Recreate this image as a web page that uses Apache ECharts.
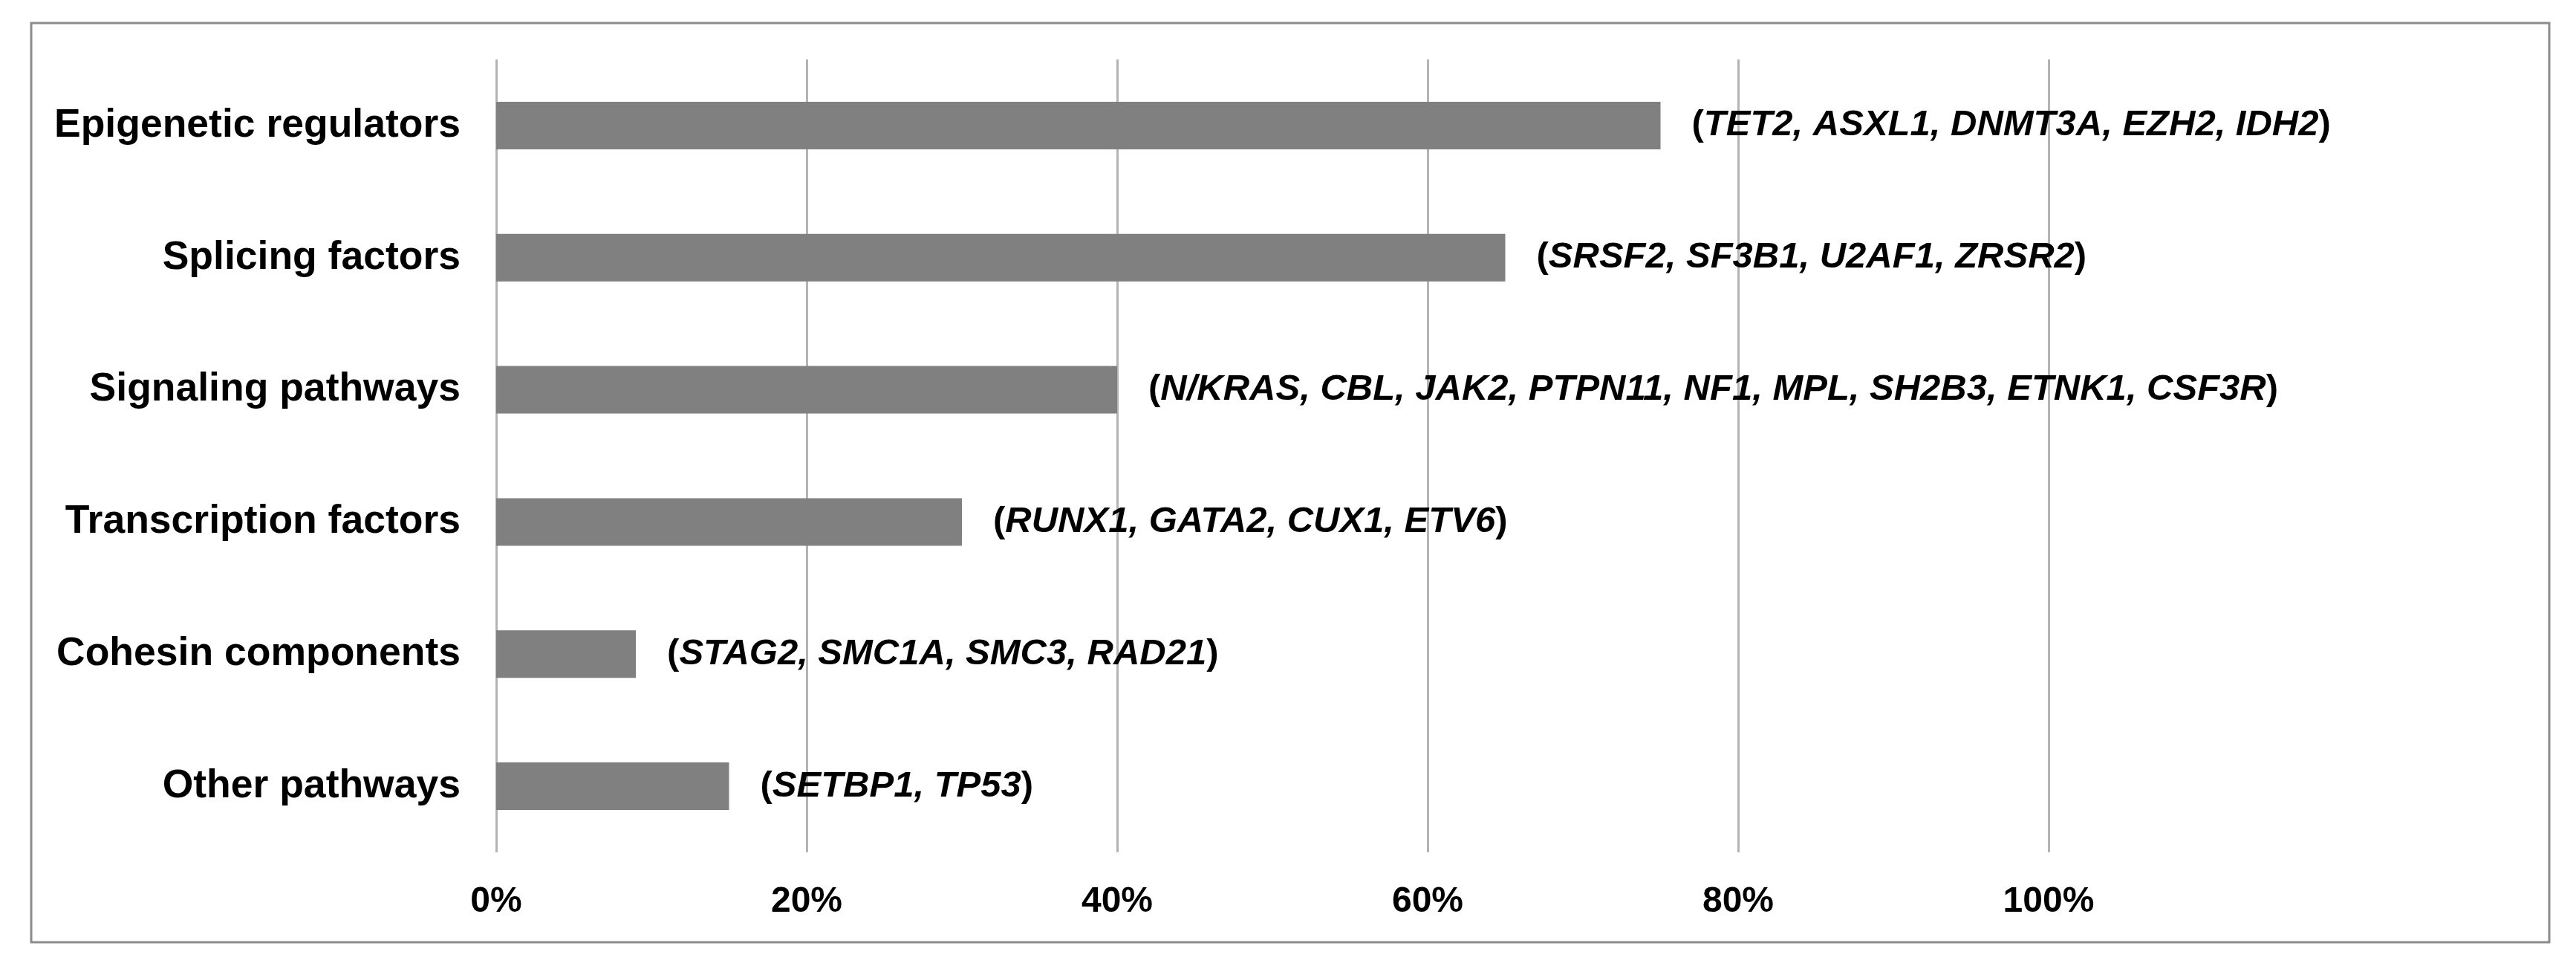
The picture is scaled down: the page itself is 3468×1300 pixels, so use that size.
<!DOCTYPE html>
<html>
<head>
<meta charset="utf-8">
<script src="https://cdn.jsdelivr.net/npm/echarts@6/dist/echarts.min.js"></script>
<style>
html,body{margin:0;padding:0;background:#fff;}
#chart{width:3468px;height:1300px;}
</style>
</head>
<body>
<div id="chart"></div>
<script>
const categories = ["Epigenetic regulators", "Splicing factors", "Signaling pathways", "Transcription factors", "Cohesin components", "Other pathways"];
const values = [0.75, 0.65, 0.40, 0.30, 0.09, 0.15];
const genes = [
  "TET2, ASXL1, DNMT3A, EZH2, IDH2",
  "SRSF2, SF3B1, U2AF1, ZRSR2",
  "N/KRAS, CBL, JAK2, PTPN11, NF1, MPL, SH2B3, ETNK1, CSF3R",
  "RUNX1, GATA2, CUX1, ETV6",
  "STAG2, SMC1A, SMC3, RAD21",
  "SETBP1, TP53"
];
const tickValues = [0, 0.2, 0.4, 0.6, 0.8, 1.0];

const FONT = '"Liberation Sans", Arial, Helvetica, sans-serif';
const chart = echarts.init(document.getElementById('chart'));
chart.setOption({
  animation: false,
  backgroundColor: '#ffffff',
  graphic: [{
    type: 'rect',
    shape: { x: 42, y: 31, width: 3390, height: 1237 },
    style: { fill: 'none', stroke: '#8c8c8c', lineWidth: 3 },
    silent: true
  }],
  grid: { left: 668, right: 710, top: 80, bottom: 153, containLabel: false },
  xAxis: {
    type: 'value',
    min: 0,
    max: 1,
    interval: 0.2,
    axisLine: { show: false },
    axisTick: { show: false },
    splitLine: { show: true, lineStyle: { color: '#b4b4b4', width: 3 } },
    axisLabel: {
      margin: 43,
      fontFamily: FONT,
      fontWeight: 'bold',
      fontSize: 48,
      color: '#000',
      formatter: v => Math.round(v * 100) + '%'
    }
  },
  yAxis: {
    type: 'category',
    inverse: true,
    data: categories,
    axisLine: { show: false },
    axisTick: { show: false },
    splitLine: { show: false },
    axisLabel: {
      margin: 48,
      fontFamily: FONT,
      fontWeight: 'bold',
      fontSize: 53.5,
      color: '#000'
    }
  },
  series: [{
    type: 'bar',
    data: values,
    barWidth: '36%',
    itemStyle: { color: '#808080' },
    label: {
      show: true,
      position: 'right',
      distance: 42,
      fontFamily: FONT,
      fontWeight: 'bold',
      fontSize: 49,
      color: '#000',
      formatter: p => '{p|(}{g|' + genes[p.dataIndex] + '}{p|)}',
      rich: {
        p: { fontFamily: FONT, fontWeight: 'bold', fontStyle: 'normal', fontSize: 49, color: '#000' },
        g: { fontFamily: FONT, fontWeight: 'bold', fontStyle: 'italic', fontSize: 49, color: '#000' }
      }
    }
  }]
});
</script>
</body>
</html>
